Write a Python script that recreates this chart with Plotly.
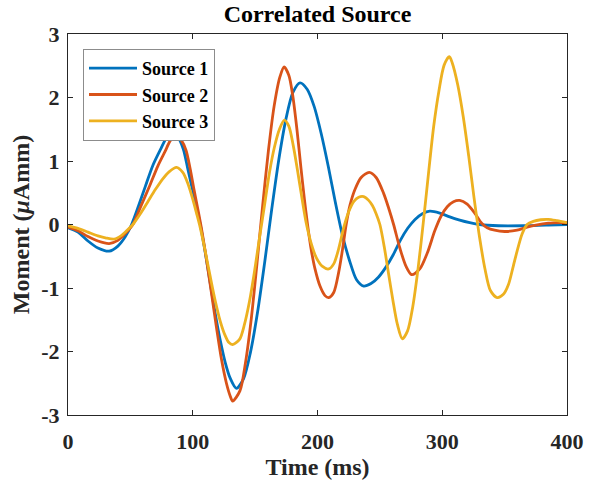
import plotly.graph_objects as go

# ---- data ----
t_s1 = [0, 8, 16, 24, 33, 40, 46, 51, 56.5, 62, 68, 74.6, 79, 83, 88, 92.4, 96, 99, 102.5, 106,
        110, 114, 118, 122, 126, 130, 135, 140.7, 146.3, 152, 157.7, 163.3, 169, 174.7, 180.3,
        186, 191.7, 197.3, 203, 208.7, 214.3, 220, 225.7, 231.3, 237, 242.9, 248.8, 254.7,
        260.6, 266.4, 272.3, 278.2, 284.1, 290, 298, 306, 314, 322, 330, 345, 365, 385, 400]
y_s1 = [-0.05, -0.12, -0.26, -0.37, -0.42, -0.34, -0.19, 0.0, 0.29, 0.6, 0.93, 1.2, 1.37, 1.46,
        1.38, 1.19, 0.88, 0.62, 0.32, 0.0, -0.44, -0.92, -1.4, -1.82, -2.17, -2.42, -2.58,
        -2.43, -2.01, -1.375, -0.59, 0.24, 1.025, 1.66, 2.08, 2.23, 2.13, 1.86, 1.43, 0.91,
        0.35, -0.17, -0.57, -0.87, -0.97, -0.93, -0.83, -0.675, -0.48, -0.25, -0.06, 0.08,
        0.17, 0.21, 0.18, 0.12, 0.07, 0.03, 0.0, -0.02, -0.02, -0.01, 0.0]

t_s2 = [0, 8, 16, 24, 33, 40, 46, 52, 58, 65.5, 72, 77.8, 82, 86.5, 91, 94.6, 98, 101, 104.5,
        107.5, 111, 115, 119, 123, 127, 130, 132, 137.8, 142.4, 147, 151.5, 156.1, 160.7,
        165.2, 169.8, 173.2, 177, 180, 183.5, 186.8, 189.5, 192, 195, 198, 202, 206, 209, 213,
        217, 220, 223, 226, 230, 235, 241.5, 247, 253, 257, 261, 266, 271, 275.5, 282, 288,
        294, 299, 304, 309, 314, 320, 326, 331.6, 336, 342, 350, 360, 368, 375, 385, 395, 400]
y_s2 = [-0.04, -0.1, -0.19, -0.26, -0.3, -0.25, -0.14, 0.0, 0.27, 0.61, 0.92, 1.15, 1.32, 1.40,
        1.32, 1.17, 0.87, 0.55, 0.2, -0.12, -0.55, -1.08, -1.62, -2.12, -2.5, -2.7, -2.78,
        -2.62, -2.16, -1.47, -0.61, 0.31, 1.17, 1.86, 2.32, 2.48, 2.35, 2.05, 1.5, 0.88, 0.4,
        0.0, -0.4, -0.7, -0.97, -1.12, -1.15, -1.07, -0.75, -0.4, 0.0, 0.3, 0.55, 0.74, 0.82,
        0.74, 0.49, 0.26, 0.0, -0.37, -0.66, -0.79, -0.7, -0.45, -0.1, 0.13, 0.28, 0.36, 0.38,
        0.32, 0.18, 0.02, -0.05, -0.09, -0.11, -0.09, -0.04, -0.01, 0.02, 0.03, 0.03]

t_s3 = [0, 8, 16, 24, 30, 37, 43, 48, 52, 58, 64, 70, 76, 81, 87, 92, 96, 100, 103, 106, 110,
        114, 118, 122, 126, 129, 132, 137.5, 141.5, 145.5, 149.5, 153.5, 157.5, 161.5, 165.5,
        169.5, 173.4, 177, 180.5, 184, 187.5, 191, 195, 199, 204, 209, 213, 217, 221, 225, 229,
        233, 237, 241, 244, 247, 250, 253.5, 257, 260.5, 264, 268, 272.2, 276.4, 280.6, 284.8,
        289, 293.1, 297.3, 301.5, 305.7, 308.1, 312.4, 316.8, 321.2, 325.5, 329.9, 334.3,
        338.6, 344, 349, 353, 357, 360, 364, 368, 373, 379, 385, 392, 400]
y_s3 = [-0.02, -0.06, -0.12, -0.18, -0.21, -0.23, -0.17, -0.08, 0.0, 0.17, 0.36, 0.55, 0.72,
        0.83, 0.9, 0.82, 0.65, 0.4, 0.18, -0.05, -0.42, -0.82, -1.2, -1.52, -1.75, -1.86, -1.89,
        -1.81, -1.57, -1.21, -0.74, -0.21, 0.3, 0.82, 1.22, 1.5, 1.645, 1.55, 1.25, 0.85, 0.42,
        0.02, -0.3, -0.52, -0.66, -0.7, -0.62, -0.38, -0.05, 0.2, 0.36, 0.43, 0.44, 0.38, 0.3,
        0.17, 0.0, -0.35, -0.78, -1.2, -1.57, -1.8, -1.675, -1.29, -0.695, 0.03, 0.81, 1.54,
        2.1, 2.51, 2.645, 2.54, 2.2, 1.7, 1.08, 0.42, -0.2, -0.705, -1.04, -1.15, -1.1, -0.95,
        -0.65, -0.42, -0.15, 0.0, 0.05, 0.075, 0.08, 0.06, 0.03]

names = ["Source 1", "Source 2", "Source 3"]
colors = ["#0072BD", "#D95319", "#EDB120"]

x_ticks = [0, 100, 200, 300, 400]
y_ticks = [-3, -2, -1, 0, 1, 2, 3]

FONT = "Liberation Serif"
INK = "#262626"

fig = go.Figure()
for t, y, n, c in zip([t_s1, t_s2, t_s3], [y_s1, y_s2, y_s3], names, colors):
    fig.add_trace(go.Scatter(x=t, y=y, mode="lines", name="<b>" + n + "</b>",
                             line=dict(color=c, width=2.8, shape="spline", smoothing=0.8)))

axis_common = dict(showline=True, linecolor=INK, linewidth=1.2, mirror="ticks",
                   ticks="inside", ticklen=5, tickcolor=INK, showgrid=False, zeroline=False,
                   tickfont=dict(family=FONT, size=22, color=INK, weight="bold"))

fig.update_layout(
    width=597, height=487,
    margin=dict(l=68, r=30, t=34, b=69),
    paper_bgcolor="white", plot_bgcolor="white",
    font=dict(family=FONT, color=INK),
    title=dict(text="<b>Correlated Source</b>", x=0.5, xref="paper", y=1 - 14 / 487,
               yanchor="middle", font=dict(family=FONT, size=24, color="black")),
    xaxis=dict(range=[0, 400], tickvals=x_ticks, ticktext=[str(v) for v in x_ticks],
               title=dict(text="<b>Time (ms)</b>", font=dict(family=FONT, size=24, color=INK),
                          standoff=5),
               ticklabelstandoff=6, **axis_common),
    yaxis=dict(range=[-3, 3], tickvals=y_ticks, ticktext=[str(v) for v in y_ticks],
               title=dict(text="<b>Moment (<i>μ</i>Amm)</b>",
                          font=dict(family=FONT, size=24, color=INK), standoff=4),
               ticklabelstandoff=3, **axis_common),
    legend=dict(x=(83 - 68) / 499, y=1 - (49 - 34) / 384, xanchor="left", yanchor="top",
                bgcolor="white", bordercolor="#8c8c8c", borderwidth=1,
                font=dict(family=FONT, size=18, color="black"), itemwidth=48,
                tracegroupgap=0),
    showlegend=True,
)

fig.write_html("out.html")
